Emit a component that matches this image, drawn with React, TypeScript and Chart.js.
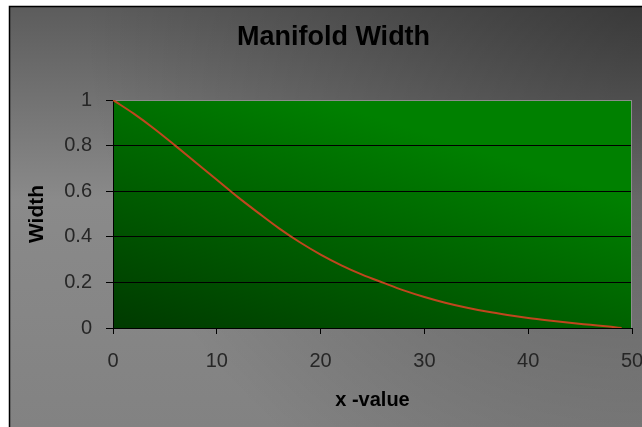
import React, { useEffect, useRef } from "react";
import { Chart, registerables } from "chart.js";

Chart.register(...registerables);

const chartTitle = "Manifold Width";
const xAxisTitle = "x -value";
const yAxisTitle = "Width";
const xValues = [0, 2, 4, 6, 8, 10, 12, 14, 16, 18, 20, 22, 24, 26, 28, 30, 32, 34, 36, 38, 40, 42, 44, 46, 48, 49];
const widthValues = [1.0, 0.94, 0.873, 0.8, 0.725, 0.65, 0.575, 0.505, 0.437, 0.376, 0.322, 0.275, 0.234, 0.199, 0.165, 0.136, 0.111, 0.09, 0.072, 0.057, 0.044, 0.033, 0.023, 0.014, 0.005, 0];
const xTicks = [0, 10, 20, 30, 40, 50];
const yTicks = [0, 0.2, 0.4, 0.6, 0.8, 1];
const yTickLabels = ["0", "0.2", "0.4", "0.6", "0.8", "1"];

const FONT = "'Liberation Sans', Arial, Helvetica, sans-serif";

const bgPlugin = {
  id: "bgPlugin",
  beforeDraw(chart: any) {
    const { ctx, width, height, chartArea: a } = chart;
    ctx.save();
    ctx.fillStyle = "#ffffff";
    ctx.fillRect(0, 0, width, height);
    const g = ctx.createLinearGradient(0, 6, 0, height);
    g.addColorStop(0, "#5c5c5c");
    g.addColorStop(0.46, "#8a8a8a");
    g.addColorStop(1, "#828282");
    ctx.fillStyle = g;
    ctx.fillRect(9, 6, width - 9, height - 6);
    const r = ctx.createRadialGradient(width, 6, 0, width, 6, 560);
    r.addColorStop(0, "rgba(0,0,0,0.38)");
    r.addColorStop(1, "rgba(0,0,0,0)");
    ctx.fillStyle = r;
    ctx.fillRect(9, 6, width - 9, height - 6);
    ctx.strokeStyle = "#000";
    ctx.lineWidth = 1.5;
    ctx.beginPath();
    ctx.moveTo(9.5, height);
    ctx.lineTo(9.5, 6.5);
    ctx.lineTo(width, 6.5);
    ctx.stroke();
    const pg = ctx.createLinearGradient(a.left, a.bottom, a.left + 87, a.bottom - 268);
    pg.addColorStop(0, "rgb(0,58,0)");
    pg.addColorStop(1, "rgb(0,128,0)");
    ctx.fillStyle = pg;
    ctx.fillRect(a.left, a.top, a.right - a.left, a.bottom - a.top);
    ctx.restore();
  },
  beforeDatasetsDraw(chart: any) {
    const { ctx, chartArea: a } = chart;
    ctx.save();
    ctx.strokeStyle = "#8c8c8c";
    ctx.lineWidth = 1;
    ctx.beginPath();
    ctx.moveTo(a.left, a.top + 0.5);
    ctx.lineTo(a.right - 0.5, a.top + 0.5);
    ctx.lineTo(a.right - 0.5, a.bottom);
    ctx.stroke();
    ctx.restore();
  },
};

export default function App() {
  const ref = useRef<HTMLCanvasElement | null>(null);
  useEffect(() => {
    if (!ref.current) return;
    Chart.defaults.font.family = FONT;
    const chart = new Chart(ref.current, {
      type: "line",
      data: {
        datasets: [
          {
            label: yAxisTitle,
            data: xValues.map((x, i) => ({ x, y: widthValues[i] })),
            borderColor: "#c0461e",
            borderWidth: 2,
            pointRadius: 0,
            fill: false,
            cubicInterpolationMode: "monotone",
          },
        ],
      },
      options: {
        responsive: false,
        animation: false,
        devicePixelRatio: 1,
        layout: { padding: { left: 25, right: 0, top: 0, bottom: 0 } },
        plugins: {
          legend: { display: false },
          tooltip: { enabled: false },
          title: {
            display: true,
            text: chartTitle,
            color: "#000",
            font: { family: FONT, size: 27, weight: "bold" },
            padding: { top: 21, bottom: 46.6 },
          },
        },
        scales: {
          x: {
            type: "linear",
            min: 0,
            max: 50,
            afterBuildTicks: (scale: any) => {
              scale.ticks = xTicks.map((v) => ({ value: v }));
            },
            ticks: {
              color: "#262626",
              font: { family: FONT, size: 20 },
              padding: 15,
              maxRotation: 0,
              callback: (v: any) => String(v),
            },
            grid: {
              drawOnChartArea: false,
              drawTicks: true,
              tickLength: 6,
              color: "#000",
              tickColor: "#000",
            },
            border: { color: "#000", width: 1 },
            title: {
              display: true,
              text: xAxisTitle,
              color: "#000",
              font: { family: FONT, size: 20, weight: "bold" },
              padding: { top: 0, bottom: 15 },
            },
            afterFit: (scale: any) => {
              scale.height = 99;
              scale.paddingLeft = 0;
              scale.paddingRight = 10;
            },
          },
          y: {
            type: "linear",
            min: 0,
            max: 1,
            afterBuildTicks: (scale: any) => {
              scale.ticks = yTicks.map((v) => ({ value: v }));
            },
            ticks: {
              color: "#262626",
              font: { family: FONT, size: 20 },
              padding: 14,
              callback: (v: any) => {
                const i = yTicks.findIndex((t) => Math.abs(t - v) < 1e-9);
                return i >= 0 ? yTickLabels[i] : "";
              },
            },
            grid: {
              color: (c: any) => (c.tick && Math.abs(c.tick.value - 1) < 1e-9 ? "#8c8c8c" : "#000"),
              tickColor: "#000",
              tickLength: 7,
              lineWidth: 1,
            },
            border: { color: "#000", width: 1 },
            title: {
              display: true,
              text: yAxisTitle,
              color: "#000",
              font: { family: FONT, size: 21, weight: "bold" },
              padding: { top: 0, bottom: 0 },
            },
            afterFit: (scale: any) => {
              scale.width = 88;
              scale.paddingTop = 0;
              scale.paddingBottom = 0;
            },
          },
        },
      },
      plugins: [bgPlugin],
    } as any);
    return () => chart.destroy();
  }, []);
  return (
    <div style={{ position: "absolute", left: 0, top: 0, width: 642, height: 427 }}>
      <canvas ref={ref} width={642} height={427} style={{ display: "block" }} />
    </div>
  );
}
